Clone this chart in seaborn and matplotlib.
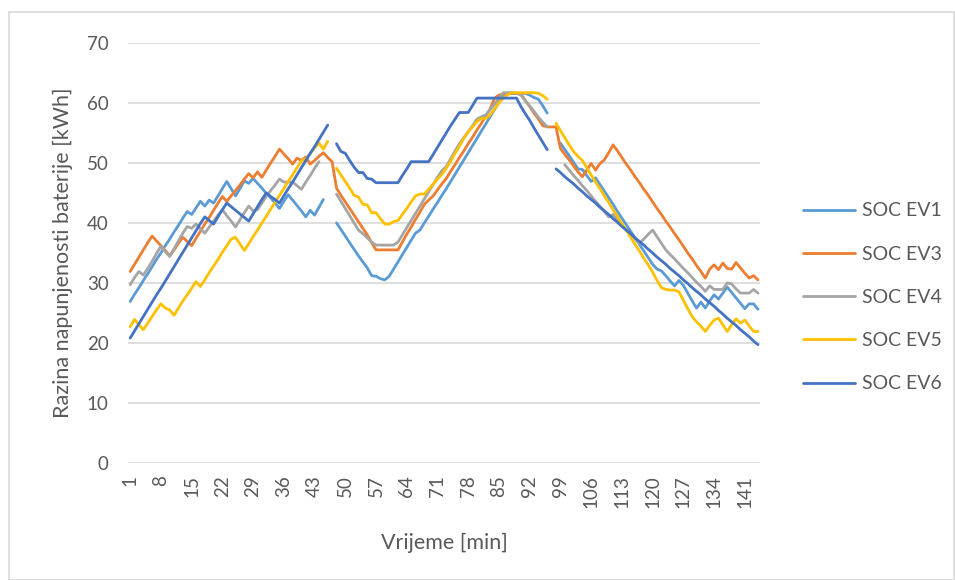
import numpy as np
import pandas as pd
import matplotlib
matplotlib.use("Agg")
import matplotlib.pyplot as plt
import seaborn as sns
from matplotlib.patches import Rectangle

nan = np.nan

# minute index 1..144
minutes = list(range(1, 145))

soc_ev1 = [
    26.9, 28.1, 29.2, 30.4, 31.5, 32.7, 33.9, 35.0, 36.2, 37.3,
    38.5, 39.6, 40.8, 41.9, 41.4, 42.5, 43.6, 42.8, 43.8, 43.3,
    44.5, 45.7, 46.9, 45.7, 44.5, 45.7, 47.0, 46.6, 47.4, 46.6,
    45.8, 44.9, 44.2, 43.3, 42.4, 43.6, 44.7, 43.8, 42.9, 42.0,
    41.0, 42.1, 41.3, 42.6, 43.9, nan, nan, 40.0, 38.9, 37.8,
    36.7, 35.6, 34.5, 33.5, 32.5, 31.2, 31.1, 30.7, 30.5, 31.1,
    32.3, 33.5, 34.7, 35.9, 37.1, 38.3, 38.8, 40.0, 41.1, 42.3,
    43.4, 44.6, 45.7, 46.9, 48.1, 49.3, 50.5, 51.7, 52.9, 54.1,
    55.3, 56.5, 57.7, 58.9, 60.1, 61.0, 61.5, 61.6, 61.6, 61.6,
    61.6, 61.3, 60.9, 60.6, 59.5, 58.3, nan, nan, 53.3, 52.2,
    51.2, 50.1, 49.0, 48.9, 47.9, 46.9, 47.5, 46.4, 45.3, 44.2,
    43.1, 41.9, 40.8, 39.7, 38.6, 37.5, 36.4, 35.3, 34.2, 33.1,
    32.3, 32.0, 31.2, 30.3, 29.5, 30.4, 29.6, 28.3, 27.0, 25.8,
    26.8, 25.8, 27.0, 28.0, 27.3, 28.3, 29.3, 28.4, 27.5, 26.6,
    25.7, 26.5, 26.5, 25.6,
]

soc_ev3 = [
    31.9, 33.1, 34.3, 35.5, 36.7, 37.8, 37.0, 36.2, 35.4, 34.5,
    35.5, 36.6, 37.6, 36.9, 36.2, 37.4, 38.6, 39.8, 40.9, 42.1,
    43.3, 44.4, 43.6, 44.5, 45.4, 46.3, 47.3, 48.2, 47.5, 48.5,
    47.6, 48.8, 50.0, 51.1, 52.3, 51.5, 50.7, 49.8, 50.8, 50.4,
    51.0, 49.8, 50.4, 51.1, 51.7, 50.9, 50.2, 45.8, 44.6, 43.5,
    42.4, 41.3, 40.2, 39.1, 38.0, 36.7, 35.5, 35.5, 35.5, 35.5,
    35.5, 35.5, 36.8, 38.1, 39.3, 40.6, 41.8, 43.1, 43.8, 44.5,
    45.5, 46.5, 47.4, 48.6, 49.7, 50.9, 52.0, 53.2, 54.3, 55.5,
    56.6, 57.8, 59.0, 60.8, 61.3, 61.5, 61.6, 61.6, 61.6, 61.5,
    60.4, 59.4, 58.3, 57.3, 56.2, 56.0, 56.0, 56.0, 52.4, 51.4,
    50.5, 49.5, 48.5, 47.7, 48.8, 49.9, 48.8, 49.9, 50.5, 51.7,
    53.0, 52.0, 50.9, 49.8, 48.8, 47.7, 46.7, 45.6, 44.6, 43.5,
    42.4, 41.4, 40.3, 39.3, 38.2, 37.2, 36.1, 35.0, 34.0, 32.9,
    31.9, 30.8, 32.3, 33.0, 32.2, 33.3, 32.4, 32.3, 33.4, 32.5,
    31.6, 30.8, 31.2, 30.5,
]

soc_ev4 = [
    29.7, 30.9, 31.9, 31.3, 32.4, 33.6, 34.9, 36.1, 35.2, 34.4,
    35.7, 37.0, 38.3, 39.4, 39.1, 39.8, 39.0, 38.3, 39.3, 40.3,
    41.3, 42.2, 41.2, 40.3, 39.3, 40.5, 41.7, 42.8, 42.0, 42.2,
    43.3, 44.4, 45.4, 46.3, 47.3, 46.8, 46.8, 46.8, 46.2, 45.6,
    46.8, 47.9, 49.1, 50.2, nan, nan, nan, 44.8, 43.6, 42.4,
    41.2, 40.0, 38.8, 38.2, 37.5, 36.8, 36.3, 36.3, 36.3, 36.3,
    36.3, 36.8, 38.0, 39.2, 40.4, 41.6, 42.8, 44.0, 45.2, 46.4,
    47.6, 48.7, 49.4, 50.7, 52.0, 53.2, 54.2, 55.2, 56.2, 57.3,
    57.7, 58.0, 58.9, 59.8, 60.8, 61.7, 61.7, 61.7, 61.6, 61.3,
    60.4, 59.5, 58.6, 57.6, 56.8, 56.0, nan, nan, nan, 49.7,
    48.8, 47.9, 47.1, 46.2, 45.4, 44.5, 43.6, 42.8, 41.9, 41.0,
    41.4, 40.4, 39.6, 38.8, 38.0, 37.3, 36.6, 37.3, 38.1, 38.8,
    37.7, 36.6, 35.5, 34.7, 34.0, 33.2, 32.4, 31.7, 30.9, 30.1,
    29.4, 28.6, 29.5, 28.9, 28.9, 28.9, 30.0, 29.8, 29.0, 28.3,
    28.3, 28.3, 28.9, 28.3,
]

soc_ev5 = [
    22.7, 23.9, 23.0, 22.2, 23.3, 24.4, 25.5, 26.5, 25.8, 25.5,
    24.6, 25.8, 27.0, 28.0, 29.1, 30.2, 29.4, 30.5, 31.7, 32.8,
    33.9, 35.1, 36.2, 37.3, 37.6, 36.5, 35.4, 36.5, 37.7, 38.8,
    40.0, 41.1, 42.3, 43.4, 44.6, 45.7, 46.9, 48.0, 49.2, 50.3,
    50.7, 51.5, 52.5, 53.3, 52.3, 53.6, nan, 49.1, 48.0, 46.9,
    45.8, 44.6, 44.3, 43.1, 43.0, 41.7, 41.7, 40.7, 39.8, 39.8,
    40.2, 40.4, 41.4, 42.4, 43.5, 44.5, 44.8, 44.8, 45.6, 46.5,
    47.3, 48.1, 49.1, 50.3, 51.6, 52.8, 54.1, 55.2, 56.0, 56.9,
    57.4, 57.4, 58.0, 59.0, 60.0, 60.8, 61.4, 61.7, 61.7, 61.7,
    61.7, 61.7, 61.7, 61.6, 61.2, 60.6, nan, 56.6, 55.4, 54.2,
    53.0, 51.9, 51.1, 50.4, 49.2, 48.0, 46.8, 45.7, 44.5, 43.4,
    42.2, 41.1, 39.9, 38.8, 37.6, 36.4, 35.3, 34.1, 33.0, 31.8,
    30.4, 29.2, 28.9, 28.8, 28.8, 28.5, 27.1, 25.7, 24.4, 23.5,
    22.8, 21.9, 22.9, 23.8, 24.1, 23.0, 21.9, 23.0, 24.0, 23.3,
    23.8, 22.8, 21.9, 21.9,
]

soc_ev6 = [
    20.8, 22.0, 23.2, 24.4, 25.6, 26.8, 28.0, 29.1, 30.3, 31.5,
    32.7, 33.9, 35.1, 36.3, 37.5, 38.7, 39.9, 41.0, 40.4, 39.8,
    41.0, 42.2, 43.3, 42.7, 42.1, 41.5, 40.9, 40.3, 41.5, 42.7,
    43.9, 45.0, 44.4, 43.9, 43.3, 44.5, 45.7, 46.8, 48.0, 49.2,
    50.4, 51.6, 52.7, 53.9, 55.1, 56.3, nan, 53.2, 51.9, 51.6,
    50.4, 49.3, 48.4, 48.4, 47.4, 47.3, 46.7, 46.7, 46.7, 46.7,
    46.7, 46.7, 47.9, 49.0, 50.2, 50.2, 50.2, 50.2, 50.2, 51.4,
    52.6, 53.8, 55.0, 56.2, 57.3, 58.4, 58.4, 58.4, 59.6, 60.8,
    60.8, 60.8, 60.8, 60.8, 60.8, 60.8, 60.8, 60.8, 60.8, 59.4,
    58.2, 57.1, 55.8, 54.6, 53.4, 52.2, nan, 49.0, 48.4, 47.7,
    47.1, 46.5, 45.8, 45.2, 44.5, 43.9, 43.3, 42.6, 42.0, 41.4,
    40.7, 40.1, 39.4, 38.8, 38.2, 37.5, 36.9, 36.3, 35.6, 35.0,
    34.3, 33.7, 33.1, 32.4, 31.8, 31.2, 30.5, 29.9, 29.2, 28.6,
    28.0, 27.3, 26.7, 26.1, 25.4, 24.8, 24.1, 23.5, 22.9, 22.2,
    21.6, 21.0, 20.3, 19.7,
]

series_names = ["SOC EV1", "SOC EV3", "SOC EV4", "SOC EV5", "SOC EV6"]
series_colors = ["#5B9BD5", "#ED7D31", "#A5A5A5", "#FFC000", "#4472C4"]
x_ticks = list(range(1, 145, 7))

df = pd.DataFrame({"Vrijeme": minutes,
                   "SOC EV1": soc_ev1, "SOC EV3": soc_ev3, "SOC EV4": soc_ev4,
                   "SOC EV5": soc_ev5, "SOC EV6": soc_ev6})
long_df = df.melt(id_vars="Vrijeme", var_name="Serija", value_name="SOC")
# blank cells break the line (Excel "show gaps"): give each piece its own unit
long_df["dio"] = long_df.groupby("Serija")["SOC"].transform(lambda s: s.isna().cumsum())
long_df = long_df.dropna(subset=["SOC"])

sns.set_style("white")
plt.rcParams["font.family"] = ["Lato", "DejaVu Sans"]
text_col = "#595959"

fig = plt.figure(figsize=(9.55, 5.8), dpi=100)
ax = fig.add_axes([0.134, 0.202, 0.662, 0.724])

sns.lineplot(data=long_df, x="Vrijeme", y="SOC", hue="Serija",
             hue_order=series_names, palette=series_colors,
             units="dio", estimator=None, linewidth=2, ax=ax)

ax.set_xlim(0.5, 144.5)
ax.set_ylim(0, 70)
ax.set_yticks(range(0, 71, 10))
ax.set_xticks(x_ticks)
ax.set_xticklabels([str(t) for t in x_ticks], rotation=90)
ax.tick_params(axis="both", length=0, labelsize=13.5, colors=text_col)
ax.tick_params(axis="y", pad=14)
ax.tick_params(axis="x", pad=9)
ax.grid(axis="y", color="#D9D9D9", linewidth=1.2)
ax.set_axisbelow(True)
for s in ax.spines.values():
    s.set_visible(False)

ax.set_xlabel("Vrijeme [min]", fontsize=15.5, color=text_col, labelpad=18)
ax.set_ylabel("Razina napunjenosti baterije [kWh]", fontsize=15.5,
              color=text_col, labelpad=10)

leg = ax.legend(loc="center left", bbox_to_anchor=(1.04, 0.394), frameon=False,
                fontsize=14, handlelength=2.7, labelspacing=1.35,
                handletextpad=0.35)
for t in leg.get_texts():
    t.set_color(text_col)

fig.patches.append(Rectangle((0.009, 0.0), 0.99, 0.979, transform=fig.transFigure,
                             fill=False, edgecolor="#D9D9D9", linewidth=1.2))

fig.savefig("out.png", dpi=100)
